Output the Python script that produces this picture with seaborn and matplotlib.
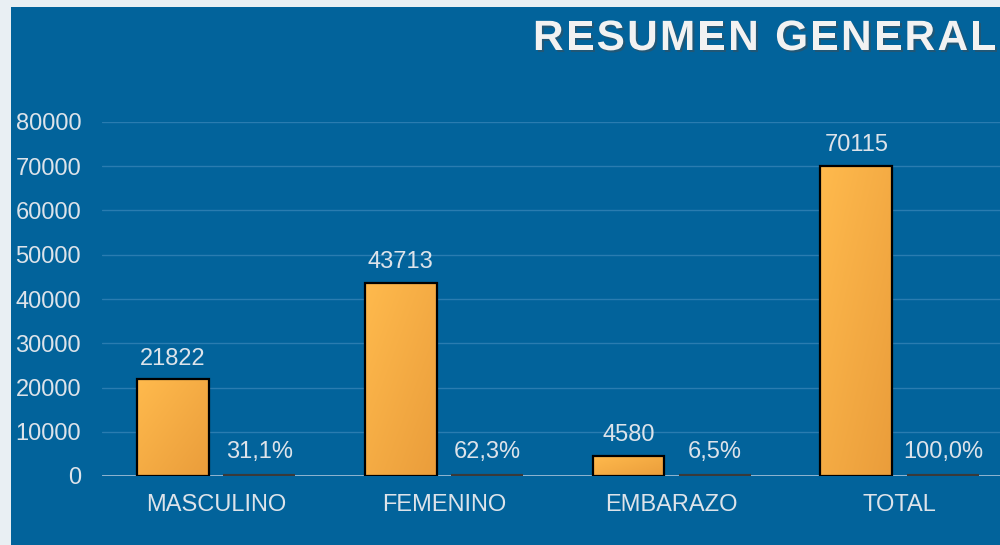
import numpy as np
import pandas as pd
import matplotlib
matplotlib.use("Agg")
import matplotlib.pyplot as plt
import matplotlib.patheffects as pe
from matplotlib.patches import Rectangle
from matplotlib.colors import LinearSegmentedColormap
import seaborn as sns

# ---- data ----
categories = ["MASCULINO", "FEMENINO", "EMBARAZO", "TOTAL"]
cantidad = [21822, 43713, 4580, 70115]
porcentaje = [31.1, 62.3, 6.5, 100.0]
pct_labels = ["31,1%", "62,3%", "6,5%", "100,0%"]
y_ticks = [0, 10000, 20000, 30000, 40000, 50000, 60000, 70000, 80000]
title = "RESUMEN GENERAL"

df = pd.DataFrame({
    "Categoria": categories * 2,
    "Serie": ["Cantidad"] * len(categories) + ["Porcentaje"] * len(categories),
    "Valor": cantidad + porcentaje,
})

sns.set_theme(style="white")
plt.rcParams["font.family"] = ["Liberation Sans", "DejaVu Sans"]

BLUE = "#02639b"
TXT = "#dde3ea"

fig = plt.figure(figsize=(10, 5.45), dpi=100)
fig.patch.set_facecolor("#e9eff3")
# blue panel
fig.add_artist(Rectangle((11 / 1000, 0), 1, 1 - 7 / 545, transform=fig.transFigure,
                         facecolor=BLUE, edgecolor="none", zorder=0))

ax = fig.add_axes([0.102, (545 - 476) / 545, 1 - 0.102, (476 - 122) / 545])
ax.set_facecolor("none")

sns.barplot(data=df, x="Categoria", y="Valor", hue="Serie", ax=ax,
            palette={"Cantidad": "#f7ae46", "Porcentaje": "#3c3c3c"},
            width=0.76, gap=0.17, edgecolor="black", linewidth=1.6,
            legend=False, zorder=3)

ax.set_ylim(0, 80000)
ax.set_xlim(-0.5, 3.44)
ax.set_yticks(y_ticks)
ax.yaxis.grid(True, color="#2a7cb0", linewidth=1)
ax.set_axisbelow(True)
for s in ax.spines.values():
    s.set_visible(False)
ax.axhline(0, color="#9dbcd4", linewidth=2, zorder=2.5)
ax.tick_params(axis="y", length=0, pad=15, labelsize=17, labelcolor=TXT)
ax.tick_params(axis="x", length=0, pad=13, labelsize=17, labelcolor=TXT)
ax.set_xlabel("")
ax.set_ylabel("")

# gradient fill on count bars
cmap = LinearSegmentedColormap.from_list("g", ["#ffba4d", "#ea9d3b"])
grad = np.add.outer(np.linspace(0, 1, 64), np.linspace(0, 1, 64)) / 2
for bar in ax.containers[0]:
    x0, w, h = bar.get_x(), bar.get_width(), bar.get_height()
    im = ax.imshow(grad, cmap=cmap, extent=(x0, x0 + w, 0, h), origin="upper",
                   aspect="auto", zorder=2.9, interpolation="bilinear")
    im.set_clip_path(bar)
    bar.set_facecolor("none")
for bar in ax.containers[1]:
    bar.set_linewidth(3.0)
    bar.set_edgecolor("#3a3a3a")
ax.set_xlim(-0.5, 3.44)
ax.set_ylim(0, 80000)

ax.bar_label(ax.containers[0], labels=[str(v) for v in cantidad], padding=7,
             fontsize=17, color=TXT)
ax.bar_label(ax.containers[1], labels=pct_labels, padding=9,
             fontsize=17, color=TXT)

# title with letter spacing
renderer = fig.canvas.get_renderer()
x_px = 533.0
y_fig = 1 - 39 / 545
spacing = 2.3
fs = 30.5
for ch in title:
    t = fig.text(x_px / 1000, y_fig, ch, ha="left", va="center", fontsize=fs,
                 fontweight="bold", color="#f2f2f2",
                 path_effects=[pe.withSimplePatchShadow(offset=(1.5, -1.5), alpha=0.45)])
    w = t.get_window_extent(renderer).width if ch != " " else fs * 100 / 72 * 0.278
    x_px += w + spacing

fig.savefig("out.png", dpi=100, facecolor=fig.get_facecolor())
